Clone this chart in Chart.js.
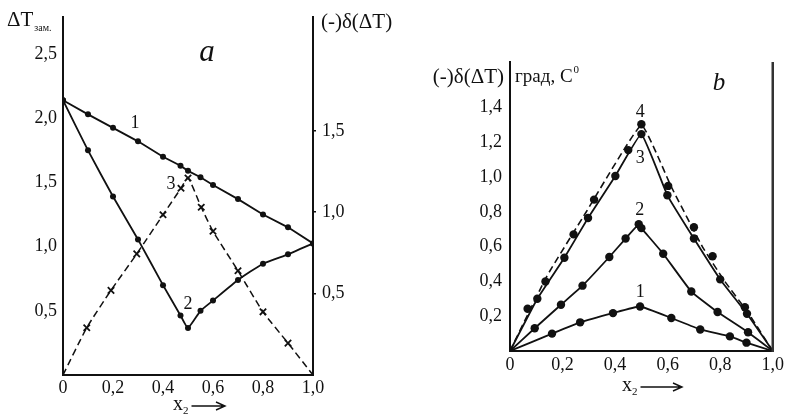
<!DOCTYPE html>
<html>
<head>
<meta charset="utf-8">
<script src="https://cdn.jsdelivr.net/npm/chart.js@4.4.1/dist/chart.umd.min.js"></script>
<style>
  body { margin: 0; background: #fff; }
  #wrap { position: relative; width: 787px; height: 419px; }
  canvas { position: absolute; top: 0; }
  #chartA { left: 0; }
  #chartB { left: 400px; }
</style>
</head>
<body>
<div id="wrap">
  <canvas id="chartA" width="400" height="419"></canvas>
  <canvas id="chartB" width="387" height="419"></canvas>
</div>
<script>
// panel a: curves 1, 2 on the left axis, curve 3 (crosses) on the right axis
const aX1 = [0, 0.1, 0.2, 0.3, 0.4, 0.47, 0.5, 0.55, 0.6, 0.7, 0.8, 0.9, 1.0];
const aY1 = [2.14, 2.03, 1.925, 1.82, 1.70, 1.63, 1.59, 1.54, 1.48, 1.37, 1.25, 1.15, 1.025];
const aX2 = [0, 0.1, 0.2, 0.3, 0.4, 0.47, 0.5, 0.55, 0.6, 0.7, 0.8, 0.9, 1.0];
const aY2 = [2.14, 1.75, 1.39, 1.056, 0.70, 0.464, 0.367, 0.50, 0.58, 0.74, 0.867, 0.94, 1.025];
const aX3 = [0, 0.095, 0.192, 0.295, 0.4, 0.472, 0.5, 0.553, 0.6, 0.7, 0.8, 0.9, 1.0];
const aY3 = [0, 0.29, 0.52, 0.744, 0.984, 1.147, 1.21, 1.03, 0.883, 0.64, 0.388, 0.196, 0];

// panel b: curves 1-3 solid with dots, curve 4 dots + dashed line
const bX1 = [0, 0.16, 0.267, 0.392, 0.495, 0.614, 0.724, 0.837, 0.90, 1.0];
const bY1 = [0, 0.10, 0.165, 0.218, 0.256, 0.19, 0.124, 0.084, 0.048, 0];
const bX2 = [0, 0.094, 0.194, 0.276, 0.378, 0.44, 0.49, 0.50, 0.583, 0.69, 0.79, 0.906, 1.0];
const bY2 = [0, 0.131, 0.266, 0.376, 0.541, 0.647, 0.729, 0.707, 0.56, 0.342, 0.224, 0.108, 0];
const bX3 = [0, 0.104, 0.207, 0.297, 0.401, 0.5, 0.599, 0.70, 0.80, 0.902, 1.0];
const bY3 = [0, 0.301, 0.537, 0.765, 1.007, 1.248, 0.896, 0.647, 0.412, 0.214, 0];
const bX4 = [0.067, 0.135, 0.242, 0.32, 0.45, 0.5, 0.602, 0.70, 0.771, 0.894];
const bY4 = [0.243, 0.40, 0.671, 0.871, 1.156, 1.305, 0.95, 0.712, 0.545, 0.252];
const bX4line = [0, 0.14, 0.29, 0.5, 0.614, 0.733, 0.815, 0.909, 1.0];
const bY4line = [0, 0.43, 0.80, 1.30, 0.944, 0.598, 0.406, 0.214, 0];

const ink = '#111';
const serif = "'Liberation Serif', 'Times New Roman', serif";
Chart.defaults.font.family = serif;
Chart.defaults.color = ink;

const pts = (xs, ys) => xs.map((x, i) => ({ x: x, y: ys[i] }));
const fmt = v => v === 0 ? '0' : v.toFixed(1).replace('.', ',');
const dotR = r => ctx => (ctx.raw && ctx.raw.y === 0 ? 0 : r);

function put(ctx, str, x, y, font, align) {
  ctx.font = font;
  ctx.textAlign = align || 'left';
  ctx.fillText(str, x, y);
  return ctx.measureText(str).width;
}

// "x2 --->" axis title
function xTitle(ctx, x0, yc, x1) {
  let w = put(ctx, 'x', x0, yc, '20px ' + serif, 'left');
  let w2 = put(ctx, '2', x0 + w, yc + 6, '11px ' + serif, 'left');
  const a = x0 + w + w2 + 3;
  ctx.strokeStyle = ink;
  ctx.lineWidth = 1.4;
  ctx.beginPath();
  ctx.moveTo(a, yc + 1);
  ctx.lineTo(x1, yc + 1);
  ctx.moveTo(x1 - 9, yc - 3);
  ctx.lineTo(x1, yc + 1);
  ctx.lineTo(x1 - 9, yc + 5);
  ctx.stroke();
}

function xScale(h, pad) {
  return {
    type: 'linear', min: 0, max: 1,
    afterFit: s => { s.height = h; },
    grid: { display: false, drawTicks: false },
    border: { color: ink, width: 2 },
    ticks: { stepSize: 0.2, padding: pad, font: { size: 18 }, color: ink,
             maxRotation: 0, autoSkip: false, callback: v => fmt(v) }
  };
}

const textA = {
  id: 'textA',
  afterDraw(chart) {
    const { ctx, scales: { x, y, yR } } = chart;
    ctx.save();
    ctx.fillStyle = ink;
    ctx.textBaseline = 'middle';
    const w = put(ctx, 'ΔT', 7, 20, '21px ' + serif);
    put(ctx, 'зам.', 8 + w, 28, '10px ' + serif);
    put(ctx, '(-)δ(ΔT)', 321, 22, '21px ' + serif);
    put(ctx, 'a', 207, 53, 'italic 31px ' + serif, 'center');
    put(ctx, '1', x.getPixelForValue(0.288), y.getPixelForValue(1.96), '18px ' + serif, 'center');
    put(ctx, '2', x.getPixelForValue(0.5), y.getPixelForValue(0.554), '18px ' + serif, 'center');
    put(ctx, '3', x.getPixelForValue(0.432), yR.getPixelForValue(1.17), '18px ' + serif, 'center');
    xTitle(ctx, 173, 405, 225);
    ctx.restore();
  }
};

new Chart('chartA', {
  type: 'line',
  data: {
    datasets: [
      { data: pts(aX1, aY1), yAxisID: 'y', borderColor: ink, borderWidth: 1.8, tension: 0,
        pointRadius: 3, pointBackgroundColor: ink, pointBorderWidth: 0 },
      { data: pts(aX2, aY2), yAxisID: 'y', borderColor: ink, borderWidth: 1.8, tension: 0.15,
        pointRadius: 3, pointBackgroundColor: ink, pointBorderWidth: 0 },
      { data: pts(aX3, aY3), yAxisID: 'yR', borderColor: ink, borderWidth: 1.5, borderDash: [7, 4],
        tension: 0.2, pointStyle: 'crossRot', pointRadius: dotR(4.5),
        pointBorderColor: ink, pointBorderWidth: 1.8 }
    ]
  },
  options: {
    responsive: false, animation: false,
    layout: { padding: { top: 12, left: 0, right: 0, bottom: 0 } },
    plugins: { legend: { display: false }, tooltip: { enabled: false } },
    scales: {
      x: xScale(44, 2),
      y: {
        position: 'left', min: 0, max: 2.79,
        afterFit: s => { s.width = 63; },
        afterBuildTicks: s => { s.ticks = s.ticks.filter(t => t.value > 0 && t.value < 2.6); },
        grid: { display: false, drawTicks: false },
        border: { color: ink, width: 2 },
        ticks: { stepSize: 0.5, includeBounds: false, padding: 6, font: { size: 18 }, color: ink,
                 callback: v => fmt(v) }
      },
      yR: {
        position: 'right', min: 0, max: 2.2,
        afterFit: s => { s.width = 87; },
        afterBuildTicks: s => { s.ticks = s.ticks.filter(t => t.value > 0 && t.value < 1.9); },
        grid: { display: true, drawOnChartArea: false, drawTicks: true, tickLength: 3, color: ink, lineWidth: 1.5 },
        border: { color: ink, width: 2 },
        ticks: { stepSize: 0.5, includeBounds: false, padding: 6, font: { size: 18 }, color: ink,
                 callback: v => fmt(v) }
      }
    }
  },
  plugins: [textA]
});

const textB = {
  id: 'textB',
  afterDraw(chart) {
    const { ctx, chartArea: ca, scales: { x, y } } = chart;
    ctx.save();
    ctx.strokeStyle = '#333';
    ctx.lineWidth = 2.5;
    ctx.beginPath();
    ctx.moveTo(ca.right, ca.top);
    ctx.lineTo(ca.right, ca.bottom + 1);
    ctx.stroke();
    ctx.fillStyle = ink;
    ctx.textBaseline = 'middle';
    put(ctx, '(-)δ(ΔT)', 104, 77, '21px ' + serif, 'right');
    const w = put(ctx, 'град, С', 115, 77, '19px ' + serif);
    put(ctx, '0', 116 + w, 70, '11px ' + serif);
    put(ctx, 'b', 319, 83, 'italic 25px ' + serif, 'center');
    put(ctx, '4', x.getPixelForValue(0.496), y.getPixelForValue(1.375), '18px ' + serif, 'center');
    put(ctx, '3', x.getPixelForValue(0.496), y.getPixelForValue(1.11), '18px ' + serif, 'center');
    put(ctx, '2', x.getPixelForValue(0.494), y.getPixelForValue(0.81), '18px ' + serif, 'center');
    put(ctx, '1', x.getPixelForValue(0.496), y.getPixelForValue(0.338), '18px ' + serif, 'center');
    xTitle(ctx, 222, 386, 282);
    ctx.restore();
  }
};

const solidB = (xs, ys) => ({
  data: pts(xs, ys), borderColor: ink, borderWidth: 1.8, tension: 0.1,
  pointRadius: dotR(4.2), pointBackgroundColor: ink, pointBorderWidth: 0
});

new Chart('chartB', {
  type: 'line',
  data: {
    datasets: [
      solidB(bX1, bY1),
      solidB(bX2, bY2),
      solidB(bX3, bY3),
      { data: pts(bX4line, bY4line), borderColor: ink, borderWidth: 1.6, borderDash: [7, 4],
        tension: 0.1, pointRadius: 0 },
      { data: pts(bX4, bY4), showLine: false, pointRadius: 4.2,
        pointBackgroundColor: ink, pointBorderWidth: 0 }
    ]
  },
  options: {
    responsive: false, animation: false,
    layout: { padding: { top: 62, left: 0, right: 11, bottom: 0 } },
    plugins: { legend: { display: false }, tooltip: { enabled: false } },
    scales: {
      x: xScale(68, 3),
      y: {
        position: 'left', min: 0, max: 1.663,
        afterFit: s => { s.width = 110; },
        afterBuildTicks: s => { s.ticks = s.ticks.filter(t => t.value > 0 && t.value < 1.5); },
        grid: { display: false, drawTicks: false },
        border: { color: ink, width: 2 },
        ticks: { stepSize: 0.2, includeBounds: false, padding: 8, font: { size: 18 }, color: ink,
                 callback: v => fmt(v) }
      }
    }
  },
  plugins: [textB]
});
</script>
</body>
</html>
